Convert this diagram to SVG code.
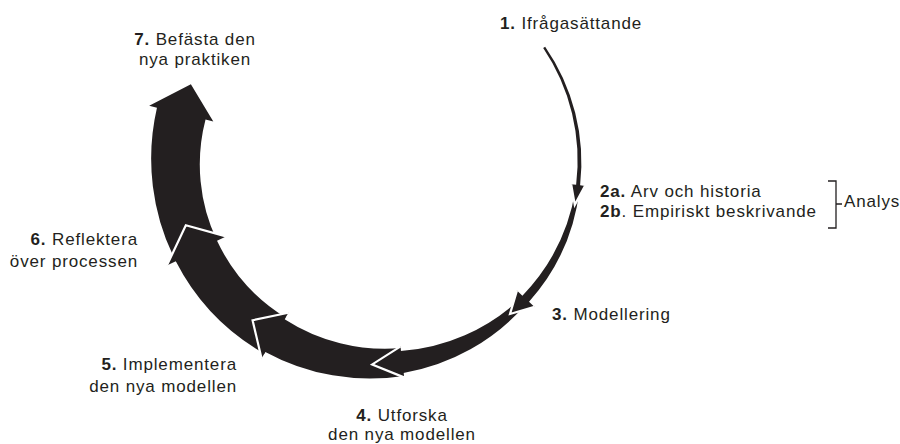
<svg xmlns="http://www.w3.org/2000/svg" width="900" height="444" viewBox="0 0 900 444">
<style>
  .lbl { font-family: "Liberation Sans", Arial, sans-serif; font-size: 17px; letter-spacing: 0.85px; fill: #231f20; }
  .b { font-weight: 700; }
  .mid { text-anchor: middle; }
  .end { text-anchor: end; }
  .band { fill: #231f20; stroke: none; }
  .edge { fill: none; stroke: #ffffff; stroke-width: 2.2; stroke-linejoin: miter; stroke-linecap: butt; }
  .brk { fill: none; stroke: #231f20; stroke-width: 1.3; }
</style>
<rect width="900" height="444" fill="#ffffff"/>
<g id="connectors">
  <g id="arrow-6">
    <path class="band" d="M 175.79,261.19 A 226,226 0 0 1 156.96,107.74 L 149.19,105.84 L 190.88,84.20 L 213.31,121.47 L 205.54,119.58 A 178,178 0 0 0 217.03,240.81 Z"/>
  </g>
  <g id="arrow-5">
    <path class="band" d="M 264.32,353.64 A 224,224 0 0 1 175.79,261.19 L 166.82,265.62 L 185.83,225.26 L 225.99,236.38 L 217.03,240.81 A 180,180 0 0 0 285.64,317.46 Z"/>
    <path class="edge" d="M 166.82,265.62 L 185.83,225.26 L 225.99,236.38"/>
  </g>
  <g id="arrow-4">
    <path class="band" d="M 403.82,375.89 A 218.5,218.5 0 0 1 265.33,351.92 L 261.53,358.38 L 252.58,320.24 L 288.43,312.72 L 284.62,319.18 A 185.5,185.5 0 0 0 400.41,348.10 Z"/>
    <path class="edge" d="M 261.53,358.38 L 252.58,320.24 L 288.43,312.72"/>
  </g>
  <g id="arrow-3">
    <path class="band" d="M 525.68,304.60 A 209.5,209.5 0 0 1 403.46,372.91 L 404.01,377.38 L 372.21,364.43 L 400.23,346.61 L 400.78,351.08 A 194.5,194.5 0 0 0 519.93,299.04 Z"/>
    <path class="edge" d="M 404.01,377.38 L 372.21,364.43 L 400.23,346.61"/>
  </g>
  <g id="arrow-2">
    <path class="band" d="M 579.52,189.89 A 205,205 0 0 1 529.01,301.80 L 534.52,306.90 L 510.02,313.95 L 516.91,290.59 L 522.41,295.69 A 198.7,198.7 0 0 0 575.55,189.33 Z"/>
    <path class="edge" d="M 534.52,306.90 L 510.02,313.95 L 516.91,290.59"/>
  </g>
  <g id="arrow-1">
    <path class="band" d="M 545.16,46.69 A 203.6,203.6 0 0 1 580.11,185.30 L 585.07,185.88 L 574.79,204.88 L 571.17,184.25 L 576.13,184.83 A 200.4,200.4 0 0 0 543.18,48.05 Z"/>
    <path class="edge" d="M 585.07,185.88 L 574.79,204.88 L 571.17,184.25"/>
  </g>
</g>
<g id="node-1">
  <text class="lbl" x="500" y="29"><tspan class="b">1.</tspan> Ifrågasättande</text>
</g>
<g id="node-2">
  <text class="lbl" x="600" y="196.5"><tspan class="b">2a.</tspan> Arv och historia</text>
  <text class="lbl" x="600" y="216.5"><tspan class="b">2b</tspan>. Empiriskt beskrivande</text>
</g>
<g id="analys">
  <path class="brk" d="M 828,181 H 836 V 228 H 828 M 836,204 H 842"/>
  <text class="lbl" x="844" y="207">Analys</text>
</g>
<g id="node-3">
  <text class="lbl" x="552" y="319.5"><tspan class="b">3.</tspan> Modellering</text>
</g>
<g id="node-4">
  <text class="lbl mid" x="402" y="420.5"><tspan class="b">4.</tspan> Utforska</text>
  <text class="lbl mid" x="402" y="440">den nya modellen</text>
</g>
<g id="node-5">
  <text class="lbl end" x="237" y="370"><tspan class="b">5.</tspan> Implementera</text>
  <text class="lbl end" x="237" y="392">den nya modellen</text>
</g>
<g id="node-6">
  <text class="lbl end" x="138" y="245"><tspan class="b">6.</tspan> Reflektera</text>
  <text class="lbl end" x="138" y="266.5">över processen</text>
</g>
<g id="node-7">
  <text class="lbl mid" x="195" y="45"><tspan class="b">7.</tspan> Befästa den</text>
  <text class="lbl mid" x="195" y="65">nya praktiken</text>
</g>
</svg>
